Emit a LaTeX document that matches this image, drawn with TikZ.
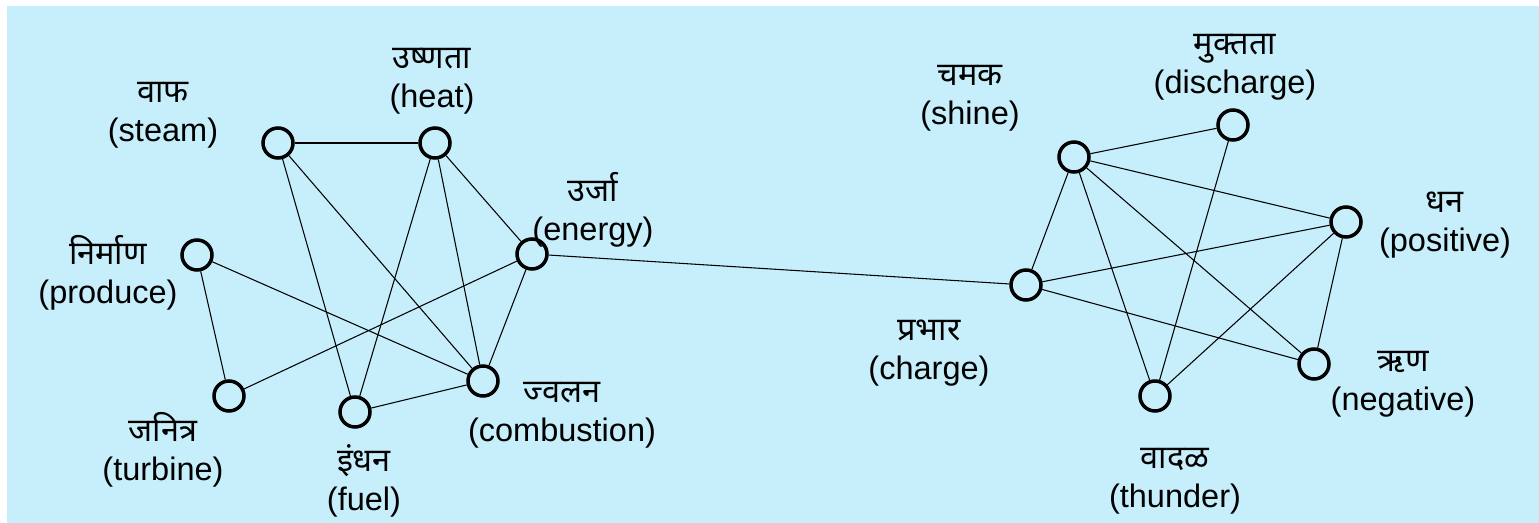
\documentclass[tikz,border=0pt]{standalone}
\usepackage{fontspec}
\setmainfont{Liberation Sans}
\newfontfamily\devfont[Script=Devanagari]{Noto Sans}
\usetikzlibrary{positioning}
\definecolor{bgblue}{HTML}{C6EEFB}
\tikzset{concept/.style={draw, circle, line width=2pt, fill=bgblue, minimum size=0.6cm, inner sep=0pt}}
\tikzset{word/.style={draw=none, inner sep=0.4mm, align=center, font=\fontsize{18.5}{22}\selectfont}}
\tikzset{link/.style={black, line width=0.6pt}}
\newcommand\mr[1]{{\devfont #1}}

\begin{document}
\begin{tikzpicture}[x=0.02cm, y=-0.02cm]
\useasboundingbox (0,0) rectangle (1539,523);
\fill[bgblue] (7,6) rectangle (1539,523);

\node[concept](steam) at (278,143) {};
\node[concept](heat) at (435,143) {};
\node[concept](energy) at (532,254) {};
\node[concept](produce) at (197,255) {};
\node[concept](turbine) at (229,396) {};
\node[concept](fuel) at (355,412) {};
\node[concept](comb) at (483,381) {};

\node[concept](shine) at (1074,157) {};
\node[concept](disch) at (1233,125) {};
\node[concept](pos) at (1346,222) {};
\node[concept](charge) at (1026,285) {};
\node[concept](neg) at (1314,364) {};
\node[concept](thunder) at (1155,396) {};

\node[word](steamlbl) at (163,115) {\mr{वाफ}\\(steam)};
\node[word](heatlbl) at (432,81) {\mr{उष्णता}\\(heat)};
\node[word](energylbl) at (593,210) {\mr{उर्जा}\\(energy)};
\node[word](producelbl) at (108,273) {\mr{निर्माण}\\(produce)};
\node[word](turbinelbl) at (163,450) {\mr{जनित्र}\\(turbine)};
\node[word](fuellbl) at (364,481) {\mr{इंधन}\\(fuel)};
\node[word](comblbl) at (562,415) {\mr{ज्वलन}\\(combustion)};

\node[word](shinelbl) at (970,98) {\mr{चमक}\\(shine)};
\node[word](dischlbl) at (1235,67) {\mr{मुक्तता}\\(discharge)};
\node[word](poslbl) at (1445,225) {\mr{धन}\\(positive)};
\node[word](chargelbl) at (929,353) {\mr{प्रभार}\\(charge)};
\node[word](neglbl) at (1403,384) {\mr{ऋण}\\(negative)};
\node[word](thunderlbl) at (1175,481) {\mr{वादळ}\\(thunder)};

\draw[link] (steam) -- (heat);
\draw[link] (steam) -- (fuel);
\draw[link] (steam) -- (comb);
\draw[link] (heat) -- (fuel);
\draw[link] (heat) -- (comb);
\draw[link] (heat) -- (energy);
\draw[link] (energy) -- (comb);
\draw[link] (energy) -- (turbine);
\draw[link] (produce) -- (turbine);
\draw[link] (produce) -- (comb);
\draw[link] (fuel) -- (comb);

\draw[link] (energy) -- (charge);

\draw[link] (shine) -- (disch);
\draw[link] (shine) -- (charge);
\draw[link] (shine) -- (pos);
\draw[link] (shine) -- (thunder);
\draw[link] (shine) -- (neg);
\draw[link] (disch) -- (thunder);
\draw[link] (charge) -- (pos);
\draw[link] (charge) -- (neg);
\draw[link] (pos) -- (thunder);
\draw[link] (pos) -- (neg);
\end{tikzpicture}
\end{document}
